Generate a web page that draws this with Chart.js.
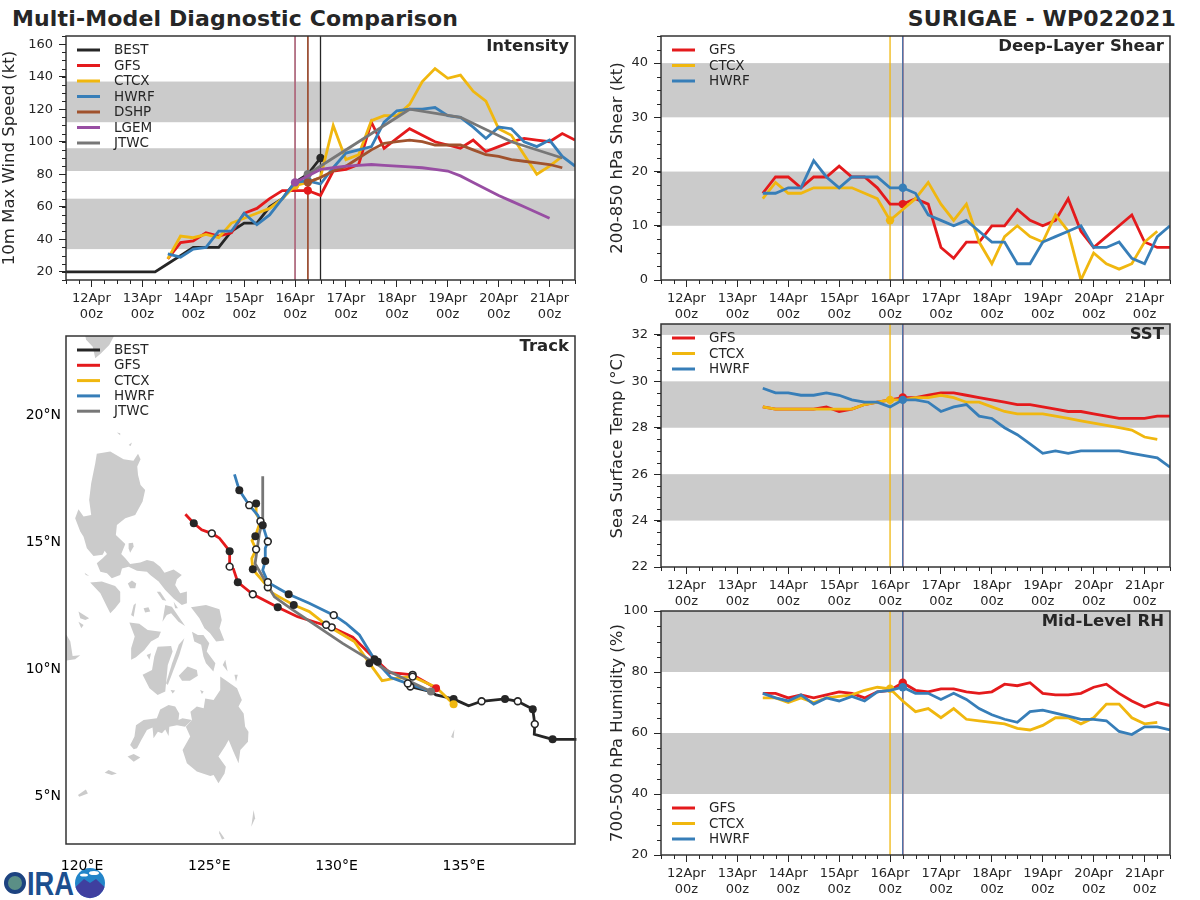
<!DOCTYPE html>
<html>
<head>
<meta charset="utf-8">
<title>Multi-Model Diagnostic Comparison</title>
<script src="https://cdn.jsdelivr.net/npm/chart.js@4/dist/chart.umd.min.js"></script>
<style>
  html, body { margin: 0; padding: 0; background: #fff; }
  #page { position: relative; width: 1200px; height: 900px; overflow: hidden; font-family: "DejaVu Sans", sans-serif; color: #262626; }
  .panel { position: absolute; }
  .head { position: absolute; top: 5px; font-weight: bold; font-size: 22px; line-height: 27px; white-space: nowrap; letter-spacing: 0.15px; }
  #logo { position: absolute; left: 0; top: 850px; }
</style>
</head>
<body>
<div id="page">
  <svg id="logo" width="120" height="50">
    <circle cx="15" cy="33" r="9" fill="#5b8f86" stroke="#1d4380" stroke-width="4"/>
    <text x="27" y="45" font-family="Liberation Sans" font-weight="bold" font-size="33" fill="#1c4f8f" textLength="47" lengthAdjust="spacingAndGlyphs">IRA</text>
    <circle cx="90" cy="33" r="15" fill="#2385c9"/>
    <path d="M75.5 37 L84 29 L90 33 L96 29 L104.5 37 A15 15 0 0 1 75.5 37 Z" fill="#3f3f9f"/>
    <ellipse cx="84" cy="25" rx="4" ry="1.6" fill="#fff"/>
    <ellipse cx="94" cy="23" rx="5" ry="2" fill="#fff"/>
  </svg>
  <div class="head" style="left:12px">Multi-Model Diagnostic Comparison</div>
  <div class="head" style="right:24px">SURIGAE - WP022021</div>
  <div class="panel" style="left:0;top:30px;width:590px;height:295px"><canvas id="intensityChart"></canvas></div>
  <div class="panel" style="left:0;top:330px;width:590px;height:570px"><canvas id="trackChart"></canvas></div>
  <div class="panel" style="left:600px;top:30px;width:590px;height:295px"><canvas id="shearChart"></canvas></div>
  <div class="panel" style="left:600px;top:318px;width:590px;height:300px"><canvas id="sstChart"></canvas></div>
  <div class="panel" style="left:600px;top:605px;width:590px;height:295px"><canvas id="rhChart"></canvas></div>
</div>

<script>
// --- time axis (hours after 12 Apr 00z) ---
const dayHours = [0, 24, 48, 72, 96, 120, 144, 168, 192, 216];
const dayLabels = ['12Apr', '13Apr', '14Apr', '15Apr', '16Apr', '17Apr', '18Apr', '19Apr', '20Apr', '21Apr'];
const stepHours = [36, 42, 48, 54, 60, 66, 72, 78, 84, 90, 96, 102, 108, 114, 120, 126, 132, 138, 144, 150, 156, 162, 168, 174, 180, 186, 192, 198, 204, 210, 216, 222, 228];

// --- intensity (kt) ---
const bestHours = [-12, -6, 0, 6, 12, 18, 24, 30, 36, 42, 48, 54, 60, 66, 72, 78, 84, 90, 96, 102, 108];
const bestWind = [20, 20, 20, 20, 20, 20, 20, 20, 25, 30, 35, 35, 35, 45, 50, 50, 60, 65, 75, 80, 90];
const gfsWind = [28, 38, 39, 44, 42, 44, 56, 59, 65, 70, 70, 70, 67, 82, 83, 86, 112, 96, 102, 108, 104, 100, 98, 96, 101, 94, 97, 100, 102, 101, 100, 105, 101];
const ctcxWind = [28, 42, 41, 43, 41, 50, 53, 56, 59, 65, 73, 75, 78, 110, 89, 92, 113, 116, 116, 123, 137, 145, 139, 141, 131, 125, 108, 104, 92, 80, 85, 91];
const hwrfWind = [31, 29, 34, 35, 45, 45, 56, 49, 55, 65, 75, 76, 74, 84, 93, 95, 97, 112, 119, 120, 120, 121, 116, 115, 109, 102, 109, 108, 100, 97, 101, 91, 85];
const dshpHours = [102, 108, 114, 120, 126, 132, 138, 144, 150, 156, 162, 168, 174, 180, 186, 192, 198, 204, 210, 216, 222];
const dshpWind = [75, 78, 82, 85, 90, 95, 99, 100, 101, 100, 98, 98, 98, 95, 92, 91, 89, 88, 87, 86, 84];
const lgemHours = [96, 102, 108, 114, 120, 126, 132, 138, 144, 150, 156, 162, 168, 174, 180, 186, 192, 198, 204, 210, 216];
const lgemWind = [75, 79, 83, 84, 85, 85.5, 86, 85.5, 85, 84.5, 84, 83, 82, 79, 75, 71, 67, 63.5, 60, 56.5, 53];
const jtwcHours = [102, 114, 126, 150, 174, 198, 222];
const jtwcWind = [80, 90, 100, 120, 115, 100, 90];

// --- deep-layer shear (kt) ---
const gfsShear = [16, 19, 19, 17, 19, 19, 21, 19, 19, 17, 14, 14, 15, 14, 6, 4, 7, 7, 10, 10, 13, 11, 10, 11, 15, 9, 6, 8, 10, 12, 7, 6, 6];
const ctcxShear = [15, 18, 16, 16, 17, 17, 17, 17, 16, 15, 11, 13, 15, 18, 14, 11, 14, 7, 3, 8, 10, 8, 7, 12, 9, 0, 5, 3, 2, 3, 7, 9];
const hwrfShear = [16, 16, 17, 17, 22, 19, 17, 19, 19, 19, 17, 17, 16, 12, 11, 10, 11, 9, 7, 7, 3, 3, 7, 8, 9, 10, 6, 6, 7, 4, 3, 8, 10];

// --- SST (C) ---
const gfsSst = [28.9, 28.8, 28.8, 28.8, 28.8, 28.9, 28.7, 28.8, 29.0, 29.1, 29.2, 29.3, 29.3, 29.4, 29.5, 29.5, 29.4, 29.3, 29.2, 29.1, 29.0, 29.0, 28.9, 28.8, 28.7, 28.7, 28.6, 28.5, 28.4, 28.4, 28.4, 28.5, 28.5];
const ctcxSst = [28.9, 28.8, 28.8, 28.8, 28.8, 28.8, 28.8, 28.8, 29.0, 29.1, 29.2, 29.2, 29.3, 29.3, 29.4, 29.3, 29.1, 29.1, 28.9, 28.7, 28.6, 28.6, 28.6, 28.5, 28.4, 28.3, 28.2, 28.1, 28.0, 27.9, 27.6, 27.5];
const hwrfSst = [29.7, 29.5, 29.5, 29.4, 29.4, 29.5, 29.4, 29.2, 29.1, 29.1, 28.9, 29.2, 29.2, 29.1, 28.7, 28.9, 29.0, 28.5, 28.4, 28.0, 27.7, 27.3, 26.9, 27.0, 26.9, 27.0, 27.0, 27.0, 27.0, 26.9, 26.8, 26.7, 26.3];

// --- mid-level RH (%) ---
const gfsRh = [73, 73, 71.5, 72.5, 71.5, 72.5, 73.5, 73, 71.5, 73.5, 74, 76.5, 74, 73.5, 74.5, 74.5, 73.5, 73, 73.5, 76, 75.5, 76.5, 73, 72.5, 72.5, 73, 75, 76, 73, 70.5, 68.5, 70, 69];
const ctcxRh = [71.5, 71.5, 70, 71.5, 70, 71.5, 72, 72.5, 74, 75, 74.5, 70.5, 67, 68, 65, 68, 64.5, 64, 63.5, 63, 61.5, 61, 62.5, 65, 65, 63, 65, 69.5, 69.5, 65, 63, 63.5];
const hwrfRh = [73, 71.5, 70.5, 72.5, 69.5, 71.5, 70.5, 72, 70.5, 73.5, 74, 75, 73, 73, 71, 73, 71, 68, 66, 64.5, 63.5, 67, 67.5, 66.5, 65.5, 64.5, 64.5, 64, 60.5, 59.5, 62, 62, 61];

// --- y ticks and shaded bands ---
const windTicks = [20, 40, 60, 80, 100, 120, 140, 160];
const windBands = [[34, 65], [82, 96], [112, 137]];
const shearTicks = [0, 10, 20, 30, 40];
const shearBands = [[10, 20], [30, 40]];
const sstTicks = [22, 24, 26, 28, 30, 32];
const sstBands = [[24, 26], [28, 30], [32, 33]];
const rhTicks = [20, 40, 60, 80, 100];
const rhBands = [[40, 60], [80, 100]];

// --- tracks, lon / lat; marks: f filled, o open, s start dot, . none ---
const bestLon = [139.54, 138.49, 137.77, 137.79, 137.71, 137.12, 136.62, 135.70, 135.19, 134.60, 133.91, 133.71, 132.90];
const bestLat = [7.23, 7.23, 7.43, 7.83, 8.42, 8.73, 8.82, 8.73, 8.55, 8.82, 8.98, 9.11, 9.31];
const bestMarks = '.f.ofofo.f..o';
const gfsLon = [133.91, 132.99, 132.08, 131.62, 130.64, 129.81, 128.47, 127.69, 126.71, 126.12, 125.95, 125.80, 125.80, 125.40, 125.10, 124.70, 124.39, 124.06];
const gfsLat = [9.24, 9.77, 9.86, 10.29, 11.25, 11.64, 12.06, 12.43, 12.94, 13.42, 13.93, 14.03, 14.64, 15.15, 15.34, 15.48, 15.74, 16.09];
const gfsMarks = 'so.f.o.fof.of.o.f.';
const ctcxLon = [134.60, 133.91, 132.99, 132.14, 131.79, 131.29, 130.70, 129.59, 128.93, 128.32, 127.49, 127.30, 126.84, 126.71, 126.67, 126.84, 126.68, 126.81, 127.01, 126.84, 126.84];
const ctcxLat = [8.61, 9.28, 9.70, 9.61, 9.54, 10.23, 11.08, 11.74, 12.26, 12.52, 12.98, 13.22, 13.77, 13.93, 14.35, 14.71, 15.05, 15.23, 15.82, 16.12, 16.52];
const ctcxMarks = 's.o..f.o.f.o.f.o.fo.f';
const hwrfLon = [133.71, 132.80, 132.14, 131.49, 130.90, 130.37, 129.89, 128.93, 128.12, 127.36, 127.30, 127.10, 127.20, 127.20, 127.30, 127.10, 126.90, 126.57, 126.18, 125.99];
const hwrfLat = [9.11, 9.43, 9.66, 10.38, 11.34, 11.80, 12.12, 12.59, 12.94, 13.38, 13.42, 13.89, 14.25, 14.75, 15.02, 15.66, 16.06, 16.45, 17.04, 17.66];
const hwrfMarks = '.o.f..o.f.o.f.of.of.';
const jtwcLon = [133.71, 131.95, 130.24, 128.28, 127.56, 126.80, 126.97, 127.10, 127.10];
const jtwcLat = [9.11, 9.96, 11.01, 12.33, 12.84, 14.15, 15.34, 15.86, 17.59];
const jtwcMarks = 's........';
const lonTicks = [120, 125, 130, 135];
const latTicks = [5, 10, 15, 20];

// --- land outlines, [lon, lat] ---
const landShapes = [
  // Taiwan tip
  [[120.09, 23.3], [121.36, 23.3], [121.07, 22.76], [120.75, 22.43], [120.52, 22.23], [120.42, 22.69], [120.16, 22.96]],
  // Babuyan
  [[121.37, 19.31], [121.50, 19.28], [121.50, 19.20]],
  [[121.83, 18.82], [121.96, 18.92], [121.91, 18.78]],
  // Luzon
  [[120.58, 18.47], [121.11, 18.56], [121.63, 18.26], [122.02, 18.20], [122.20, 18.47], [122.30, 18.26], [122.17, 17.97], [122.20, 17.64], [122.30, 17.24], [122.48, 17.05], [122.38, 16.59], [122.09, 16.06], [121.70, 15.93], [121.37, 15.67], [121.33, 15.28], [121.70, 14.92], [121.54, 14.53], [121.70, 14.36], [121.89, 14.13], [122.29, 14.19], [122.55, 14.29], [122.81, 14.23], [123.07, 14.03], [123.24, 13.79], [123.60, 13.92], [123.92, 13.70], [123.73, 13.53], [123.66, 13.31], [123.86, 12.98], [124.12, 13.05], [124.12, 12.59], [123.92, 12.52], [123.60, 12.78], [123.27, 13.11], [123.01, 13.44], [122.68, 13.70], [122.55, 13.83], [122.16, 13.87], [121.83, 14.03], [121.57, 13.96], [121.50, 13.70], [121.17, 13.57], [120.98, 13.77], [120.72, 13.83], [120.58, 14.16], [120.81, 14.36], [120.98, 14.53], [120.89, 14.66], [120.81, 14.50], [120.45, 14.45], [120.19, 14.75], [120.06, 15.21], [119.93, 15.41], [119.73, 15.93], [119.86, 16.29], [120.06, 16.0], [120.36, 16.06], [120.28, 16.65], [120.36, 17.31], [120.52, 18.10]],
  // Polillo
  [[121.83, 14.95], [122.0, 14.97], [122.03, 14.82], [121.89, 14.58], [121.83, 14.75]],
  // Lubang
  [[120.10, 13.79], [120.28, 13.66], [120.15, 13.70]],
  // Mindoro
  [[120.32, 13.41], [120.78, 13.44], [121.30, 13.27], [121.50, 13.04], [121.50, 12.65], [121.30, 12.39], [121.11, 12.19], [120.98, 12.45], [120.72, 12.98]],
  // Marinduque
  [[121.80, 13.37], [121.96, 13.48], [122.13, 13.37], [122.09, 13.18], [121.89, 13.18]],
  // Burias, Ticao
  [[122.94, 13.04], [123.07, 13.04], [123.31, 12.69], [123.16, 12.72]],
  [[123.60, 12.65], [123.77, 12.39], [123.66, 12.39]],
  // Masbate
  [[123.27, 12.52], [123.53, 12.45], [124.05, 11.69], [123.79, 11.86], [123.50, 12.19], [123.33, 12.13], [123.16, 11.86]],
  // Tablas, Sibuyan
  [[122.03, 12.52], [122.12, 12.59], [122.03, 12.06], [121.93, 12.13]],
  [[122.42, 12.39], [122.61, 12.43], [122.68, 12.26], [122.48, 12.22]],
  // Samar
  [[124.28, 12.43], [124.87, 12.52], [125.40, 12.35], [125.49, 11.93], [125.40, 11.60], [125.59, 11.12], [125.27, 11.08], [125.03, 11.41], [124.81, 11.60], [124.61, 12.0]],
  // Leyte
  [[124.32, 11.47], [124.55, 11.34], [124.77, 11.34], [125.0, 11.01], [124.90, 10.69], [125.24, 10.23], [125.16, 9.90], [124.87, 10.23], [124.77, 10.49], [124.68, 10.95], [124.41, 11.08]],
  // Panay, Guimaras
  [[121.86, 11.83], [122.25, 11.78], [122.58, 11.54], [123.10, 11.47], [123.01, 11.25], [122.71, 11.08], [122.45, 10.75], [122.12, 10.46], [121.93, 10.36], [121.93, 10.82], [122.07, 11.28]],
  [[122.54, 10.55], [122.71, 10.62], [122.65, 10.36]],
  // Negros
  [[122.97, 10.88], [123.50, 10.91], [123.56, 10.69], [123.37, 10.16], [123.27, 9.11], [122.97, 8.98], [122.65, 9.24], [122.38, 9.77], [122.75, 9.96], [122.84, 10.49]],
  // Cebu, Bohol, Siquijor, Camiguin
  [[124.02, 11.21], [123.82, 10.55], [123.37, 9.37], [123.30, 9.44], [123.54, 10.23], [123.80, 10.95]],
  [[123.80, 9.73], [124.15, 10.10], [124.51, 9.96], [124.55, 9.73], [124.24, 9.54], [123.93, 9.54]],
  [[123.48, 9.17], [123.66, 9.15], [123.56, 9.04]],
  [[124.64, 9.17], [124.78, 9.11], [124.71, 9.02]],
  // Dinagat, Siargao
  [[125.53, 10.16], [125.63, 10.36], [125.72, 9.90]],
  [[125.99, 9.77], [126.12, 9.77], [126.05, 9.5]],
  // Palawan, Busuanga
  [[119.2, 11.4], [119.39, 11.34], [119.54, 11.08], [119.63, 10.51], [119.93, 10.54], [119.73, 10.38], [119.39, 10.33], [119.2, 10.33]],
  [[119.86, 12.26], [120.28, 12.0], [120.13, 11.93], [119.93, 12.0]],
  [[119.86, 11.86], [120.06, 11.73], [119.97, 11.60]],
  // Mindanao
  [[125.43, 9.70], [125.63, 9.57], [126.09, 9.24], [126.28, 8.78], [126.15, 8.52], [126.35, 8.25], [126.41, 7.73], [126.54, 7.53], [126.52, 7.14], [126.22, 6.81], [126.15, 6.29], [125.95, 6.74], [125.76, 7.20], [125.63, 6.97], [125.36, 6.55], [125.65, 6.15], [125.60, 5.89], [125.36, 5.50], [125.17, 5.83], [125.04, 5.79], [124.51, 5.96], [124.12, 6.29], [123.95, 6.81], [124.25, 7.34], [124.08, 7.73], [124.32, 7.99], [124.26, 8.32], [124.51, 8.52], [124.78, 8.45], [124.84, 8.84], [125.17, 8.78], [125.43, 9.17]],
  // Zamboanga
  [[124.32, 7.99], [123.95, 8.06], [123.79, 7.99], [123.82, 8.25], [123.66, 8.52], [123.40, 8.58], [123.07, 8.41], [122.94, 8.06], [122.42, 7.99], [122.12, 7.79], [122.06, 7.34], [121.89, 7.01], [122.03, 6.84], [122.16, 6.88], [122.33, 7.20], [122.55, 7.60], [122.77, 7.70], [122.81, 7.27], [122.98, 7.53], [123.14, 7.47], [123.27, 7.62], [123.40, 7.36], [123.43, 7.73], [123.73, 7.79], [124.05, 7.73]],
  // Basilan, Jolo, Tawi-Tawi
  [[121.79, 6.55], [122.03, 6.65], [122.29, 6.52], [122.03, 6.35]],
  [[120.89, 5.92], [121.04, 6.02], [121.37, 5.89], [121.17, 5.83]],
  [[119.84, 5.04], [120.15, 5.26], [120.23, 5.10], [119.89, 4.97]],
  // Talaud and Palau islets
  [[126.74, 4.45], [126.8, 4.12], [126.65, 3.79]],
  [[125.39, 3.63], [125.6, 3.33], [125.5, 3.29], [125.39, 3.53]],
  [[134.50, 7.32], [134.63, 7.63], [134.60, 7.27]]
];

const COLORS = { BEST: '#262626', GFS: '#e41a1c', CTCX: '#f0b70f', HWRF: '#377eb8', DSHP: '#a0522d', LGEM: '#984ea3', JTWC: '#777777' };
const TEXT = '#262626';
const BAND = '#cbcbcb';
const FONT = '"DejaVu Sans", sans-serif';

// shaded bands, land, model init lines, frame, minor ticks, legend and panel label
function panelPlugin(cfg) {
  return {
    id: 'panel',
    beforeDatasetsDraw(chart) {
      const { ctx, chartArea: a, scales: { x, y } } = chart;
      ctx.save();
      ctx.beginPath();
      ctx.rect(a.left, a.top, a.right - a.left, a.bottom - a.top);
      ctx.clip();
      ctx.fillStyle = BAND;
      (cfg.bands || []).forEach(b => {
        const y1 = y.getPixelForValue(b[1]);
        const y0 = y.getPixelForValue(b[0]);
        ctx.fillRect(a.left, y1, a.right - a.left, y0 - y1);
      });
      (cfg.land || []).forEach(shape => {
        ctx.beginPath();
        shape.forEach(p => ctx.lineTo(x.getPixelForValue(p[0]), y.getPixelForValue(p[1])));
        ctx.closePath();
        ctx.fill();
      });
      ctx.lineWidth = 1.3;
      (cfg.initLines || []).forEach(l => {
        const px = x.getPixelForValue(l[0]);
        ctx.strokeStyle = l[1];
        ctx.beginPath();
        ctx.moveTo(px, a.top);
        ctx.lineTo(px, a.bottom);
        ctx.stroke();
      });
      ctx.restore();
    },
    afterDatasetsDraw(chart) {
      const { ctx, chartArea: a, scales: { x, y } } = chart;
      ctx.save();
      ctx.strokeStyle = '#333333';
      ctx.lineWidth = 1.5;
      ctx.strokeRect(a.left, a.top, a.right - a.left, a.bottom - a.top);

      if (cfg.yMinor) {
        ctx.strokeStyle = TEXT;
        ctx.lineWidth = 1;
        ctx.beginPath();
        for (let h = -12; h <= 228; h += 6) {
          if (h % 24 === 0) continue;
          const px = Math.round(x.getPixelForValue(h)) + 0.5;
          ctx.moveTo(px, a.bottom);
          ctx.lineTo(px, a.bottom + 4);
        }
        for (let v = y.min; v <= y.max; v += cfg.yMinor) {
          const py = Math.round(y.getPixelForValue(v)) + 0.5;
          ctx.moveTo(a.left, py);
          ctx.lineTo(a.left - 4, py);
        }
        ctx.stroke();
      }

      // legend
      ctx.font = '13.5px ' + FONT;
      ctx.textBaseline = 'middle';
      ctx.textAlign = 'left';
      (cfg.legend || []).forEach((name, i) => {
        const py = cfg.legendY + i * cfg.legendGap;
        ctx.strokeStyle = COLORS[name];
        ctx.lineWidth = 3;
        ctx.beginPath();
        ctx.moveTo(a.left + 11, py);
        ctx.lineTo(a.left + 34, py);
        ctx.stroke();
        ctx.fillStyle = TEXT;
        ctx.fillText(name, a.left + 48, py + 0.5);
      });

      ctx.font = 'bold 16.5px ' + FONT;
      ctx.textAlign = 'right';
      ctx.fillStyle = TEXT;
      ctx.fillText(cfg.label, a.right - 6, a.top + 11);
      ctx.restore();
    }
  };
}

function toPoints(hours, values) {
  return values.map((v, i) => ({ x: hours[i], y: v }));
}

// one model line, with a dot on its init time
function modelLine(name, hours, values, initHour) {
  const pts = toPoints(hours, values);
  return {
    label: name,
    data: pts,
    borderColor: COLORS[name],
    backgroundColor: COLORS[name],
    borderWidth: 2.8,
    tension: 0,
    pointRadius: pts.map(p => p.x === initHour ? 4.2 : 0),
    pointBorderWidth: 0,
    pointHoverRadius: 0
  };
}

function stackOrder(sets) {
  // the first dataset goes to the bottom, like the order of the legend
  sets.forEach((d, i) => { d.order = -i; });
  return sets;
}

// the edge labels must not push the plot area in
function noEdgePadding(scale) {
  scale.paddingTop = 0;
  scale.paddingBottom = 0;
  scale.paddingLeft = 0;
  scale.paddingRight = 0;
}

function timeChart(id, cfg) {
  new Chart(document.getElementById(id), {
    type: 'line',
    data: { datasets: stackOrder(cfg.datasets) },
    plugins: [panelPlugin(cfg)],
    options: {
      responsive: true,
      maintainAspectRatio: false,
      animation: false,
      events: [],
      layout: { padding: { top: 6, right: cfg.rightPad, left: 0, bottom: 0 } },
      plugins: { legend: { display: false }, tooltip: { enabled: false } },
      scales: {
        x: {
          type: 'linear',
          min: -12,
          max: 228,
          afterBuildTicks: s => { s.ticks = dayHours.map(v => ({ value: v })); },
          afterFit: s => { s.height = cfg.xHeight; noEdgePadding(s); },
          border: { display: false },
          grid: { drawOnChartArea: false, tickLength: 7, tickColor: TEXT, tickWidth: 1 },
          ticks: {
            autoSkip: false,
            maxRotation: 0,
            padding: 4,
            color: TEXT,
            font: { family: FONT, size: 13, lineHeight: 1.23 },
            callback: v => [dayLabels[dayHours.indexOf(v)], '00z']
          }
        },
        y: {
          min: cfg.yMin,
          max: cfg.yMax,
          afterBuildTicks: s => { s.ticks = cfg.yTicks.map(v => ({ value: v })); },
          afterFit: s => { s.width = cfg.yWidth; noEdgePadding(s); },
          border: { display: false },
          grid: { drawOnChartArea: false, tickLength: 7, tickColor: TEXT, tickWidth: 1 },
          ticks: { padding: 6, color: TEXT, font: { family: FONT, size: 13 } },
          title: {
            display: true,
            text: cfg.yTitle,
            color: TEXT,
            font: { family: FONT, size: 16.5 },
            padding: { top: cfg.titlePad, bottom: 0 }
          }
        }
      }
    }
  });
}

timeChart('intensityChart', {
  label: 'Intensity',
  yTitle: '10m Max Wind Speed (kt)',
  yMin: 15, yMax: 165, yTicks: windTicks, yMinor: 5,
  bands: windBands,
  initLines: [[96, COLORS.CTCX], [96, COLORS.LGEM], [102, COLORS.GFS], [102, COLORS.JTWC], [102, COLORS.DSHP], [108, COLORS.BEST]],
  legend: ['BEST', 'GFS', 'CTCX', 'HWRF', 'DSHP', 'LGEM', 'JTWC'],
  legendY: 20, legendGap: 15.5,
  yWidth: 66, rightPad: 15, xHeight: 45, titlePad: 0,
  datasets: [
    modelLine('BEST', bestHours, bestWind, 108),
    modelLine('GFS', stepHours, gfsWind, 102),
    modelLine('CTCX', stepHours, ctcxWind, 96),
    modelLine('HWRF', stepHours, hwrfWind, 102),
    modelLine('DSHP', dshpHours, dshpWind, 102),
    modelLine('JTWC', jtwcHours, jtwcWind, 102),
    modelLine('LGEM', lgemHours, lgemWind, 96)
  ]
});

const rightLines = [[96, COLORS.CTCX], [102, COLORS.GFS], [102, COLORS.HWRF]];

function threeModels(gfs, ctcx, hwrf) {
  return [
    modelLine('GFS', stepHours, gfs, 102),
    modelLine('CTCX', stepHours, ctcx, 96),
    modelLine('HWRF', stepHours, hwrf, 102)
  ];
}

timeChart('shearChart', {
  label: 'Deep-Layer Shear',
  yTitle: '200-850 hPa Shear (kt)',
  yMin: 0, yMax: 45, yTicks: shearTicks, yMinor: 2.5,
  bands: shearBands, initLines: rightLines,
  legend: ['GFS', 'CTCX', 'HWRF'],
  legendY: 20, legendGap: 15.5,
  yWidth: 61, rightPad: 20, xHeight: 45, titlePad: 8,
  datasets: threeModels(gfsShear, ctcxShear, hwrfShear)
});

timeChart('sstChart', {
  label: 'SST',
  yTitle: 'Sea Surface Temp (\u00B0C)',
  yMin: 22, yMax: 32.47, yTicks: sstTicks, yMinor: 0.5,
  bands: sstBands, initLines: rightLines,
  legend: ['GFS', 'CTCX', 'HWRF'],
  legendY: 20, legendGap: 15.5,
  yWidth: 61, rightPad: 20, xHeight: 51, titlePad: 8,
  datasets: threeModels(gfsSst, ctcxSst, hwrfSst)
});

timeChart('rhChart', {
  label: 'Mid-Level RH',
  yTitle: '700-500 hPa Humidity (%)',
  yMin: 20, yMax: 100, yTicks: rhTicks, yMinor: 5,
  bands: rhBands, initLines: rightLines,
  legend: ['GFS', 'CTCX', 'HWRF'],
  legendY: 203, legendGap: 15.5,
  yWidth: 61, rightPad: 20, xHeight: 45, titlePad: 8,
  datasets: threeModels(gfsRh, ctcxRh, hwrfRh)
});

// --- track map ---
function trackSets(name, lons, lats, marks) {
  const pts = lons.map((lon, i) => ({ x: lon, y: lats[i] }));
  const line = {
    label: name,
    data: pts,
    showLine: true,
    borderColor: COLORS[name],
    borderWidth: 2.8,
    tension: 0.001, // keeps the plain path, the fast one merges points on one pixel column
    pointRadius: 0
  };
  const dotPts = pts.filter((p, i) => marks[i] !== '.');
  const dotMarks = marks.split('').filter(m => m !== '.');
  const dots = {
    label: name + ' marks',
    data: dotPts,
    showLine: false,
    pointRadius: dotMarks.map(m => m === 'o' ? 3.4 : 4),
    pointBorderWidth: dotMarks.map(m => m === 'o' ? 1.6 : 0),
    pointBorderColor: COLORS.BEST,
    pointBackgroundColor: dotMarks.map(m => m === 'o' ? '#ffffff' : m === 's' ? COLORS[name] : COLORS.BEST)
  };
  return { line, dots };
}

const trackModels = [
  trackSets('BEST', bestLon, bestLat, bestMarks),
  trackSets('GFS', gfsLon, gfsLat, gfsMarks),
  trackSets('CTCX', ctcxLon, ctcxLat, ctcxMarks),
  trackSets('HWRF', hwrfLon, hwrfLat, hwrfMarks),
  trackSets('JTWC', jtwcLon, jtwcLat, jtwcMarks)
];

// the lines run east to west, so the range is set after the data limits
function fixRange(scale, min, max) {
  scale.min = min;
  scale.max = max;
}

new Chart(document.getElementById('trackChart'), {
  type: 'scatter',
  data: {
    datasets: stackOrder(trackModels.map(m => m.line).concat(trackModels.map(m => m.dots)))
  },
  plugins: [panelPlugin({ label: 'Track', land: landShapes, legend: ['BEST', 'GFS', 'CTCX', 'HWRF', 'JTWC'], legendY: 20, legendGap: 15.3 })],
  options: {
    responsive: true,
    maintainAspectRatio: false,
    animation: false,
    events: [],
    layout: { padding: { top: 6, right: 15, left: 0, bottom: 0 } },
    plugins: { legend: { display: false }, tooltip: { enabled: false } },
    scales: {
      x: {
        type: 'linear',
        afterDataLimits: s => fixRange(s, 119.37, 139.37),
        afterBuildTicks: s => { fixRange(s, 119.37, 139.37); s.ticks = lonTicks.map(v => ({ value: v })); },
        afterFit: s => { s.height = 56; noEdgePadding(s); },
        border: { display: false },
        grid: { display: false, drawTicks: false },
        ticks: { autoSkip: false, maxRotation: 0, padding: 14, color: '#000', font: { family: FONT, size: 14 }, callback: v => v + '\u00B0E' }
      },
      y: {
        type: 'linear',
        afterDataLimits: s => fixRange(s, 3.11, 23.11),
        afterBuildTicks: s => { fixRange(s, 3.11, 23.11); s.ticks = latTicks.map(v => ({ value: v })); },
        afterFit: s => { s.width = 66; noEdgePadding(s); },
        border: { display: false },
        grid: { display: false, drawTicks: false },
        ticks: { autoSkip: false, padding: 5, color: '#000', font: { family: FONT, size: 14 }, callback: v => v + '\u00B0N' }
      }
    }
  }
});
</script>
</body>
</html>
